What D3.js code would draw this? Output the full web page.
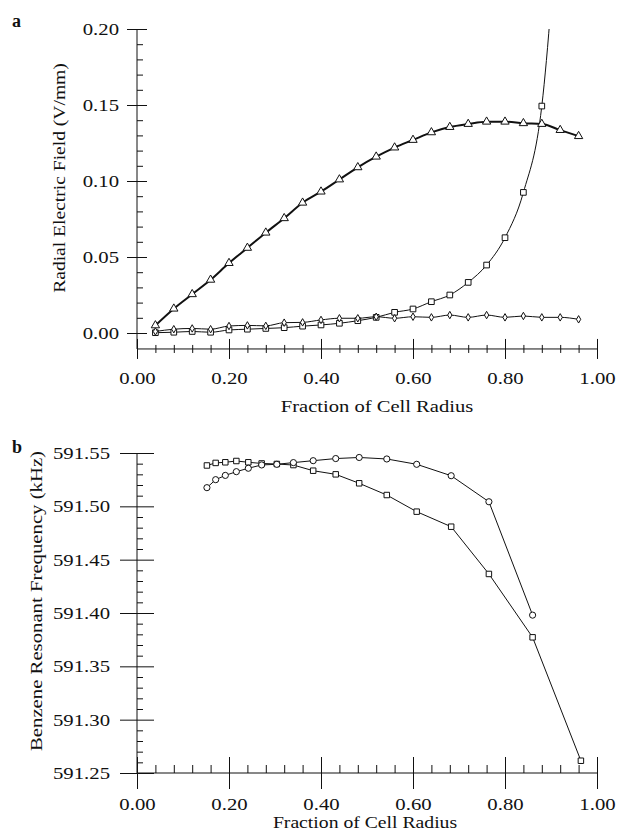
<!DOCTYPE html>
<html>
<head>
<meta charset="utf-8">
<script src="https://cdn.jsdelivr.net/npm/d3@7/dist/d3.min.js"></script>
<style>
  body { margin: 0; background: #fff; }
  text { font-family: "Liberation Serif", "Times New Roman", serif; fill: #111; }
</style>
</head>
<body>
<svg id="chart" width="620" height="832"></svg>
<script>
// panel a data: fraction of cell radius vs radial electric field (V/mm)
let radiusA = [0.04, 0.08, 0.12, 0.16, 0.20, 0.24, 0.28, 0.32, 0.36, 0.40, 0.44, 0.48,
               0.52, 0.56, 0.60, 0.64, 0.68, 0.72, 0.76, 0.80, 0.84, 0.88, 0.92, 0.96];
let fieldTriangle = [0.005, 0.016, 0.0255, 0.035, 0.046, 0.056, 0.066, 0.0755, 0.0857, 0.093, 0.101, 0.109,
                     0.116, 0.122, 0.127, 0.132, 0.1355, 0.1375, 0.139, 0.139, 0.138, 0.1375, 0.1335, 0.1295];
let fieldSquare = [0.0002, 0.0005, 0.001, 0.0005, 0.002, 0.0025, 0.003, 0.0035, 0.0045, 0.0053, 0.0064, 0.0081,
                   0.0103, 0.0136, 0.0158, 0.0206, 0.025, 0.0333, 0.0447, 0.0627, 0.0925, 0.1493, 0.30];
let fieldDiamond = [0.001, 0.0025, 0.003, 0.0025, 0.0046, 0.005, 0.0047, 0.0068, 0.007, 0.0086, 0.0097, 0.0097,
                    0.0107, 0.0097, 0.0107, 0.0103, 0.0118, 0.0103, 0.0118, 0.0103, 0.0112, 0.0103, 0.0103, 0.009];

// panel b data: fraction of cell radius vs benzene resonant frequency (kHz)
let radiusB = [0.152, 0.171, 0.192, 0.216, 0.242, 0.271, 0.304, 0.340, 0.383, 0.432, 0.483,
               0.543, 0.608, 0.683, 0.765, 0.860, 0.965];
let freqCircle = [591.5175, 591.525, 591.529, 591.5325, 591.5357, 591.5388, 591.5394, 591.541, 591.5428,
                  591.5448, 591.5458, 591.5444, 591.5394, 591.5287, 591.5043, 591.398];
let freqSquare = [591.5383, 591.5407, 591.5413, 591.5425, 591.5413, 591.5402, 591.5397, 591.5387, 591.5334,
                  591.530, 591.5216, 591.5106, 591.495, 591.4809, 591.4366, 591.3772, 591.2615];

let xTicks = [0, 0.2, 0.4, 0.6, 0.8, 1.0];
let yTicksA = [0, 0.05, 0.10, 0.15, 0.20];
let yTicksB = [591.25, 591.30, 591.35, 591.40, 591.45, 591.50, 591.55];

const svg = d3.select("#chart");
const fmt2 = d3.format(".2f");
const K = 1.22; // the scanned type is wider than Liberation Serif

function stretch(sel, k) {
  sel.each(function() {
    const w = this.getComputedTextLength();
    d3.select(this).attr("textLength", w * k).attr("lengthAdjust", "spacingAndGlyphs");
  });
}

function series(g, x, y, xs, ys, opt) {
  const pts = ys.map((v, i) => [xs[i], v]);
  g.append("path")
    .attr("d", d3.line().x(d => x(d[0])).y(d => y(d[1])).curve(opt.curve)(pts))
    .attr("fill", "none").attr("stroke", "#111").attr("stroke-width", opt.width);
  g.selectAll(null).data(pts).enter().append("path")
    .attr("transform", d => `translate(${x(d[0])},${y(d[1])})`)
    .attr("d", d3.symbol().type(opt.symbol).size(opt.size))
    .attr("fill", "#fff").attr("stroke", "#111").attr("stroke-width", 1);
}

function panel(cfg) {
  const g = svg.append("g");
  const x = d3.scaleLinear().domain([0, 1]).range([137, 597]);
  const y = cfg.y;
  const yBase = cfg.yBase; // pixel row of the x axis line

  // axis lines
  g.append("line").attr("x1", x(0)).attr("x2", x(0)).attr("y1", y.range()[1]).attr("y2", yBase)
    .attr("stroke", "#111");
  g.append("line").attr("x1", x(0)).attr("x2", x(1)).attr("y1", yBase).attr("y2", yBase)
    .attr("stroke", "#111");

  // y axis: major ticks crossing, minor ticks inside
  const ya = g.append("g").attr("transform", `translate(${x(0)},0)`)
    .call(d3.axisLeft(y).tickValues(cfg.yTicks).tickFormat(cfg.yFmt)
      .tickSize(cfg.yMajor).tickPadding(cfg.yPad));
  ya.select(".domain").remove();
  ya.selectAll(".tick line").attr("x1", cfg.yMajor).attr("stroke", "#111");
  ya.selectAll("text").attr("font-size", 17).attr("font-family", null).call(stretch, K);
  const ym = g.append("g").attr("transform", `translate(${x(0)},0)`)
    .call(d3.axisRight(y).tickValues(cfg.yMinor).tickFormat("").tickSize(6));
  ym.select(".domain").remove();
  ym.selectAll(".tick line").attr("stroke", "#111");

  // x axis
  const xa = g.append("g").attr("transform", `translate(0,${yBase})`)
    .call(d3.axisBottom(x).tickValues(xTicks).tickFormat(fmt2)
      .tickSize(cfg.xMajor).tickPadding(cfg.xPad));
  xa.select(".domain").remove();
  xa.selectAll(".tick line").attr("y1", -cfg.xMajor).attr("stroke", "#111");
  xa.selectAll("text").attr("font-size", 17).attr("font-family", null).call(stretch, K);
  const minorX = d3.range(1, 25).map(i => i * 0.04).filter(v => Math.abs(v * 5 - Math.round(v * 5)) > 1e-6);
  const xm = g.append("g").attr("transform", `translate(0,${yBase})`)
    .call(d3.axisTop(x).tickValues(minorX).tickFormat("").tickSize(cfg.xMinorUp));
  xm.select(".domain").remove();
  xm.selectAll(".tick line").attr("y1", cfg.xMinorDown).attr("stroke", "#111");

  // titles
  g.append("text").attr("x", cfg.xTitleX).attr("y", cfg.xTitleY).attr("text-anchor", "middle")
    .attr("font-size", cfg.xTitleSize).text("Fraction of Cell Radius").call(stretch, cfg.xTitleK);
  g.append("text").attr("transform", `translate(${cfg.yTitleX},${cfg.yTitleY}) rotate(-90)`)
    .attr("text-anchor", "middle").attr("font-size", 17).text(cfg.yTitle).call(stretch, cfg.yTitleK);
  g.append("text").attr("x", 12).attr("y", cfg.letterY).attr("font-size", 18)
    .attr("font-weight", "bold").text(cfg.letter);

  const plot = g.append("g").attr("clip-path", cfg.clip ? `url(#${cfg.clip})` : null);
  return { g: plot, x, y };
}

// clip for panel a (the steep curve leaves the top of the frame)
svg.append("defs").append("clipPath").attr("id", "clipA").append("rect")
  .attr("x", 120).attr("y", 29).attr("width", 480).attr("height", 330);

const yA = d3.scaleLinear().domain([0, 0.2]).range([333, 29]);
const pa = panel({
  y: yA, yBase: yA(-0.0105), yTicks: yTicksA, yFmt: fmt2,
  yMinor: d3.range(1, 20).filter(i => i % 5).map(i => i / 100),
  yMajor: 10, yPad: 8, xMajor: 10, xPad: 13, xMinorUp: 4, xMinorDown: 4,
  xTitleX: 377, xTitleY: 412, xTitleK: 1.21, xTitleSize: 17,
  yTitle: "Radial Electric Field (V/mm)", yTitleX: 65, yTitleY: 178, yTitleK: 1.15,
  letter: "a", letterY: 27, clip: "clipA"
});
series(pa.g, pa.x, pa.y, radiusA, fieldSquare, { curve: d3.curveMonotoneX, width: 1, symbol: d3.symbolSquare, size: 32 });
series(pa.g, pa.x, pa.y, radiusA, fieldDiamond, { curve: d3.curveMonotoneX, width: 1, symbol: d3.symbolDiamond, size: 16 });
series(pa.g, pa.x, pa.y, radiusA, fieldTriangle, { curve: d3.curveMonotoneX, width: 2, symbol: d3.symbolTriangle, size: 30 });

const yB = d3.scaleLinear().domain([591.25, 591.55]).range([773, 453]);
const pb = panel({
  y: yB, yBase: yB(591.25), yTicks: yTicksB, yFmt: fmt2,
  yMinor: d3.range(0, 30).filter(i => i % 5).map(i => 591.25 + i / 100),
  yMajor: 17, yPad: 10, xMajor: 16, xPad: 9, xMinorUp: 8, xMinorDown: 0,
  xTitleX: 365, xTitleY: 828, xTitleK: 1.23, xTitleSize: 16,
  yTitle: "Benzene Resonant Frequency (kHz)", yTitleX: 42, yTitleY: 601, yTitleK: 1.22,
  letter: "b", letterY: 453, clip: null
});
series(pb.g, pb.x, pb.y, radiusB, freqSquare, { curve: d3.curveLinear, width: 1, symbol: d3.symbolSquare, size: 30 });
series(pb.g, pb.x, pb.y, radiusB.slice(0, freqCircle.length), freqCircle, { curve: d3.curveLinear, width: 1, symbol: d3.symbolCircle, size: 30 });
</script>
</body>
</html>
